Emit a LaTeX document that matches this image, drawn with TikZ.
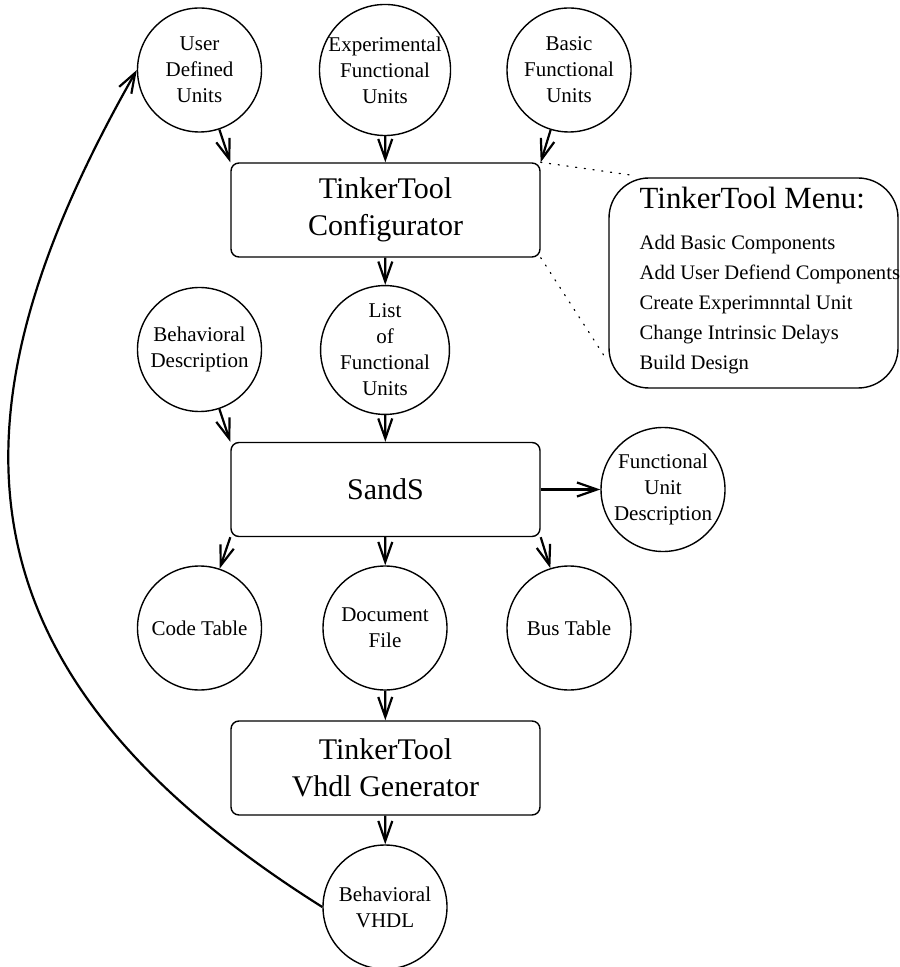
\documentclass[tikz,border=0pt]{standalone}
\usepackage{fontspec}
\setmainfont{Liberation Serif}
\usepackage{tikz}
\usetikzlibrary{calc,positioning,arrows.meta}

\begin{document}
\begin{tikzpicture}[
  x=0.5pt, y=-0.5pt,        % one unit = one pixel of the sketch
  unit/.style={circle,draw,line width=0.7pt,minimum size=62pt,inner sep=0pt,
    align=center,font=\fontsize{10.5}{13}\selectfont},
  tool/.style={rectangle,rounded corners=4pt,draw,line width=0.7pt,
    minimum width=154.5pt,minimum height=47pt,align=center,
    font=\fontsize{15}{18.5}\selectfont},
  menubox/.style={draw,line width=0.7pt,rounded corners=20pt,
    minimum width=144.5pt,minimum height=105pt},
  menutext/.style={align=left,inner sep=0pt,font=\fontsize{10.3}{15}\selectfont},
  flow/.style={-{Straight Barb[length=10pt,width=7pt]},line width=1.1pt},
  note/.style={line width=0.6pt,dash pattern=on 0.6pt off 3.8pt,line cap=round}
]
\useasboundingbox (0,0) rectangle (899,967);

% --- inputs of the configurator
\node[unit] (user)  at (199.5,70) {User\\Defined\\Units};
\node[unit] (exp)   at (385,70)   {Experimental\\Functional\\Units};
\node[unit] (basic) at (569,70)   {Basic\\Functional\\Units};

\node[tool] (conf) at (385.5,210) {TinkerTool\\Configurator};

% --- menu of the configurator
\node[menubox] (menu) at (753.5,283) {};
\node[menutext,anchor=west] (items) at ($(menu.west)+(31,-2)$)
  {{\fontsize{15.4}{18}\selectfont TinkerTool Menu:}\\[5.5pt]
   Add Basic Components\\
   Add User Defiend Components\\
   Create Experimnntal Unit\\
   Change Intrinsic Delays\\
   Build Design};

% --- SandS and its files
\node[unit] (behav) at (199.5,349.5) {Behavioral\\Description};
\node[unit] (list)  at (385,350)     {List\\of\\Functional\\Units};

\node[tool] (sands) at (385.5,489.5) {SandS};
\node[unit] (fud)   at (663,489.5)   {Functional\\Unit\\Description};

\node[unit] (code) at (199.5,628) {Code Table};
\node[unit] (doc)  at (385,628)   {Document\\File};
\node[unit] (bus)  at (569,628)   {Bus Table};

\node[tool] (vgen) at (385.5,768) {TinkerTool\\Vhdl Generator};
\node[unit] (vhdl) at (385,907)   {Behavioral\\VHDL};

% ===== arrows =====
\draw[flow] (user) -- (conf.north west);
\draw[flow] (exp) -- (conf);
\draw[flow] (basic) -- (conf.north east);
\draw[flow] (conf) -- (list);

\draw[flow] (behav) -- (sands.north west);
\draw[flow] (list) -- (sands);
\draw[flow] (sands) -- (fud);
\draw[flow] (sands.south west) -- (code);
\draw[flow] (sands) -- (doc);
\draw[flow] (sands.south east) -- (bus);

\draw[flow] (doc) -- (vgen);
\draw[flow] (vgen) -- (vhdl);

% feedback to the user defined units
\draw[flow] (vhdl.west) .. controls (-59,667) and (-56,409) .. (user.west);

% ===== dotted lines to the menu =====
\draw[note] (conf.north east) -- ($(menu.north west)+(24,-2)$);
\draw[note] (conf.south east) -- ($(menu.south west)+(-1,-28)$);

\end{tikzpicture}
\end{document}
